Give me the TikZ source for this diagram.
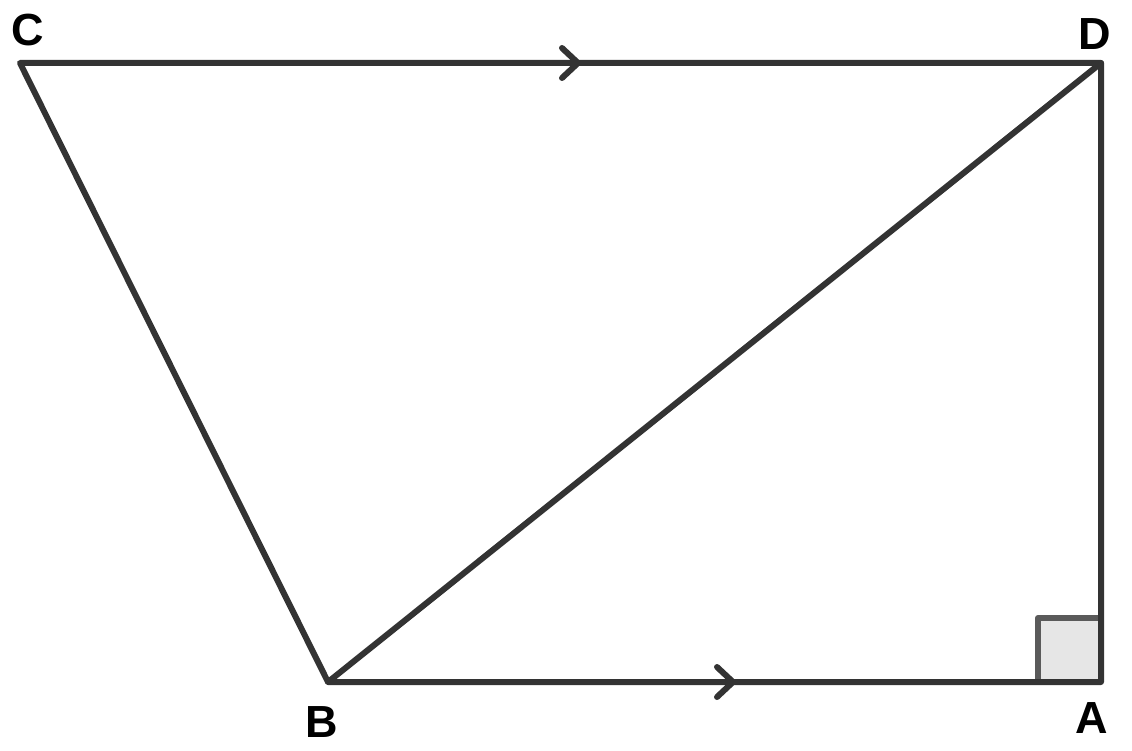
\documentclass[tikz,border=0pt]{standalone}
\usepackage{fontspec}
\setmainfont{Liberation Sans}
\definecolor{edgecol}{RGB}{51,51,51}
\definecolor{sqfill}{RGB}{230,230,230}
\definecolor{sqdraw}{RGB}{90,90,90}
\begin{document}
\begin{tikzpicture}[x=1pt,y=-1pt,
  edge/.style={line width=6pt,draw=edgecol,line cap=round,line join=round},
  lbl/.style={font=\fontsize{45}{50}\selectfont\bfseries,inner sep=0pt}]
\useasboundingbox (0,0) rectangle (1132,751);
\coordinate (C) at (20,63);
\coordinate (D) at (1101,63);
\coordinate (B) at (328,682);
\coordinate (A) at (1101,682);
\coordinate (m1) at (578,63);
\coordinate (m2) at (733,682);
\coordinate (sq) at (1038,618);
\fill[sqfill] (sq) rectangle (A);
\draw[line width=6pt,draw=sqdraw,line join=round] (sq -| A) -- (sq) -- (sq |- A);
\draw[edge] (C) -- (D) -- (A) -- (B) -- cycle;
\draw[edge] (B) -- (D);
\draw[edge] ([shift={(-16,-15)}]m1) -- (m1) -- ([shift={(-16,15)}]m1);
\draw[edge] ([shift={(-16,-15)}]m2) -- (m2) -- ([shift={(-16,15)}]m2);
\node[lbl] (lC) at (28,30) {C};
\node[lbl] (lD) at (1095,34) {D};
\node[lbl] (lB) at (322,722) {B};
\node[lbl] (lA) at (1092,718) {A};
\end{tikzpicture}
\end{document}
